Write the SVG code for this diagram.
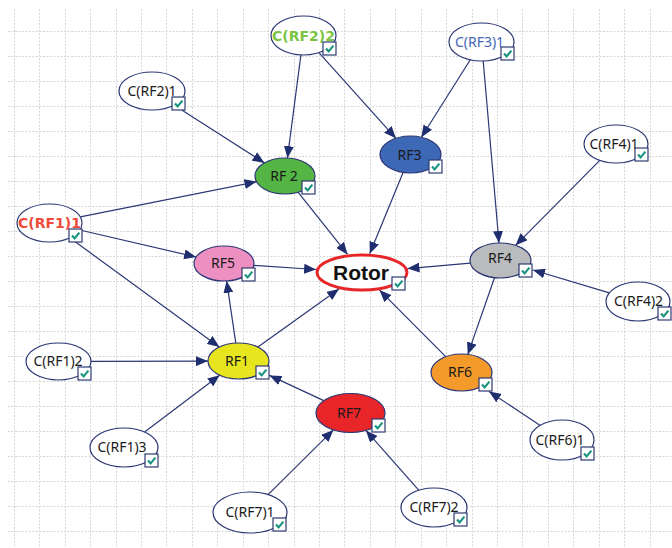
<svg xmlns="http://www.w3.org/2000/svg" xmlns:xlink="http://www.w3.org/1999/xlink" width="672" height="548" viewBox="0 0 672 548">
<style>
.grid{stroke:#d6d6d6;stroke-width:1;stroke-dasharray:2 1.5;fill:none}
.edge{stroke:#2b3775;stroke-width:1.2;fill:none;marker-end:url(#arr)}
.nd{stroke:#2b3775;stroke-width:1.2}
.lbl{font-family:"Noto Sans","Liberation Sans",sans-serif;font-size:14px;fill:#1a1a1a;text-anchor:middle}
.bl{font-family:"DejaVu Sans","Liberation Sans",sans-serif;font-weight:bold;font-size:14px;text-anchor:middle}
</style>
<defs>
<marker id="arr" viewBox="0 0 12 10" refX="12" refY="5" markerWidth="12" markerHeight="10" markerUnits="userSpaceOnUse" orient="auto">
<path d="M0,0 L12,5 L0,10 z" fill="#1f2e6e"/>
</marker>
<symbol id="chk" viewBox="0 0 13 13" width="13" height="13" overflow="visible">
<rect x="0" y="0" width="13" height="13" fill="#ffffff" stroke="#2d3a70" stroke-width="1.2"/>
<path d="M3,6.5 L5.6,9.4 L10.4,3.6" fill="none" stroke="#1a9480" stroke-width="2.2"/>
</symbol>
</defs>
<rect width="672" height="548" fill="#ffffff"/>
<g id="grid">
<path class="grid" d="M14.5,9V548M39.5,9V548M65.5,9V548M90.5,9V548M116.5,9V548M141.5,9V548M166.5,9V548M192.5,9V548M217.5,9V548M243.5,9V548M268.5,9V548M294.5,9V548M319.5,9V548M344.5,9V548M370.5,9V548M395.5,9V548M421.5,9V548M446.5,9V548M472.5,9V548M497.5,9V548M522.5,9V548M548.5,9V548M573.5,9V548M599.5,9V548M624.5,9V548M650.5,9V548"/>
<path class="grid" d="M8,31.5H672M8,56.5H672M8,81.5H672M8,106.5H672M8,131.5H672M8,156.5H672M8,181.5H672M8,206.5H672M8,231.5H672M8,256.5H672M8,281.5H672M8,306.5H672M8,331.5H672M8,356.5H672M8,381.5H672M8,406.5H672M8,431.5H672M8,456.5H672M8,481.5H672M8,506.5H672M8,531.5H672"/>
</g>
<g id="connectors">
<line class="edge" x1="300.9" y1="54.9" x2="287.4" y2="158.1"/>
<line class="edge" x1="318.9" y1="52.7" x2="395.9" y2="138.3"/>
<line class="edge" x1="470.3" y1="59.8" x2="421.4" y2="137.2"/>
<line class="edge" x1="483.2" y1="61" x2="499" y2="243"/>
<line class="edge" x1="181.7" y1="110" x2="264.5" y2="162.9"/>
<line class="edge" x1="80.3" y1="216.9" x2="256.5" y2="181.7"/>
<line class="edge" x1="79.7" y1="230" x2="196.1" y2="257"/>
<line class="edge" x1="69.8" y1="237.8" x2="219.3" y2="347"/>
<line class="edge" x1="298" y1="192.2" x2="347.6" y2="254.4"/>
<line class="edge" x1="403.1" y1="172.5" x2="369.7" y2="253.8"/>
<line class="edge" x1="253.8" y1="265.4" x2="316.1" y2="269.5"/>
<line class="edge" x1="470.3" y1="263.1" x2="407.5" y2="268.6"/>
<line class="edge" x1="599.8" y1="160.4" x2="515.6" y2="245.3"/>
<line class="edge" x1="609.3" y1="292.9" x2="533" y2="270"/>
<line class="edge" x1="494.5" y1="277.7" x2="467.8" y2="354.4"/>
<line class="edge" x1="445.7" y1="356.7" x2="379.5" y2="290.1"/>
<line class="edge" x1="235.8" y1="343.1" x2="226.6" y2="280.9"/>
<line class="edge" x1="257.9" y1="347.1" x2="339" y2="289"/>
<line class="edge" x1="91" y1="361.4" x2="208" y2="361.1"/>
<line class="edge" x1="144.6" y1="432" x2="219.7" y2="375.2"/>
<line class="edge" x1="323.8" y1="400.6" x2="269.5" y2="375.4"/>
<line class="edge" x1="268.1" y1="494.6" x2="333.4" y2="429.9"/>
<line class="edge" x1="418.7" y1="490.2" x2="365.9" y2="430.4"/>
<line class="edge" x1="540.2" y1="425.4" x2="489" y2="391.5"/>
</g>
<g id="n-crf2-2"><ellipse class="nd" cx="303.5" cy="35.5" rx="32.5" ry="19.5" fill="#ffffff"/><text class="bl" x="303.5" y="40.5" fill="#7bc442" font-size="13.5">C(RF2)2</text><use xlink:href="#chk" x="323" y="42"/></g>
<g id="n-crf3-1"><ellipse class="nd" cx="481.5" cy="42" rx="32.5" ry="19" fill="#ffffff"/><text class="lbl" x="479.5" y="46.5" style="fill:#4466b4">C(RF3)1</text><use xlink:href="#chk" x="501" y="47"/></g>
<g id="n-crf2-1"><ellipse class="nd" cx="152" cy="91" rx="33" ry="19" fill="#ffffff"/><text class="lbl" x="152" y="95.5">C(RF2)1</text><use xlink:href="#chk" x="172" y="97"/></g>
<g id="n-rf2"><ellipse class="nd" cx="285" cy="176" rx="30" ry="18" fill="#55b544"/><text class="lbl" x="284" y="180.5">RF 2</text><use xlink:href="#chk" x="302" y="181"/></g>
<g id="n-rf3"><ellipse class="nd" cx="410.5" cy="154.5" rx="30.5" ry="18.5" fill="#3d68b5"/><text class="lbl" x="409.5" y="159.5">RF3</text><use xlink:href="#chk" x="429" y="160"/></g>
<g id="n-crf4-1"><ellipse class="nd" cx="616" cy="144" rx="32" ry="19" fill="#ffffff"/><text class="lbl" x="614" y="148.5">C(RF4)1</text><use xlink:href="#chk" x="635" y="148"/></g>
<g id="n-crf1-1"><ellipse class="nd" cx="49.5" cy="223" rx="32.5" ry="19" fill="#ffffff"/><text class="bl" x="49.5" y="227.5" fill="#f04a3a">C(RF1)1</text><use xlink:href="#chk" x="69" y="229"/></g>
<g id="n-rf5"><ellipse class="nd" cx="224" cy="263.5" rx="30" ry="17.5" fill="#ee8fc2"/><text class="lbl" x="223" y="267.5">RF5</text><use xlink:href="#chk" x="242" y="268"/></g>
<g id="n-rotor"><ellipse cx="362" cy="272.5" rx="45" ry="17.5" fill="#ffffff" stroke="#e8262a" stroke-width="3"/><text x="361" y="280" text-anchor="middle" font-family="Liberation Sans, Arial, sans-serif" font-weight="bold" font-size="21" fill="#111111">Rotor</text><use xlink:href="#chk" x="392" y="277"/></g>
<g id="n-rf4"><ellipse class="nd" cx="500.5" cy="260.5" rx="30.5" ry="17.5" fill="#b9bbbd"/><text class="lbl" x="500" y="262.5">RF4</text><use xlink:href="#chk" x="519" y="264"/></g>
<g id="n-crf4-2"><ellipse class="nd" cx="638" cy="301.5" rx="32" ry="19.5" fill="#ffffff"/><text class="lbl" x="638.5" y="306">C(RF4)2</text><use xlink:href="#chk" x="658" y="307"/></g>
<g id="n-crf1-2"><ellipse class="nd" cx="58.5" cy="361.5" rx="32.5" ry="18.5" fill="#ffffff"/><text class="lbl" x="58" y="366">C(RF1)2</text><use xlink:href="#chk" x="78" y="367"/></g>
<g id="n-rf1"><ellipse class="nd" cx="238.5" cy="361" rx="30.5" ry="18" fill="#e6e51e"/><text class="lbl" x="237" y="365.5">RF1</text><use xlink:href="#chk" x="256" y="366"/></g>
<g id="n-rf6"><ellipse class="nd" cx="461.5" cy="372.5" rx="30.5" ry="18.5" fill="#f39a2b"/><text class="lbl" x="460" y="376.5">RF6</text><use xlink:href="#chk" x="479" y="378"/></g>
<g id="n-rf7"><ellipse class="nd" cx="350.5" cy="413" rx="34.5" ry="19.5" fill="#e8262a"/><text class="lbl" x="349" y="417.5">RF7</text><use xlink:href="#chk" x="372" y="419"/></g>
<g id="n-crf1-3"><ellipse class="nd" cx="124" cy="447.5" rx="34" ry="19.5" fill="#ffffff"/><text class="lbl" x="122" y="452">C(RF1)3</text><use xlink:href="#chk" x="145" y="454"/></g>
<g id="n-crf6-1"><ellipse class="nd" cx="562" cy="440" rx="32" ry="20" fill="#ffffff"/><text class="lbl" x="560" y="444.5">C(RF6)1</text><use xlink:href="#chk" x="581" y="447"/></g>
<g id="n-crf7-1"><ellipse class="nd" cx="250" cy="512.5" rx="37" ry="20.5" fill="#ffffff"/><text class="lbl" x="250" y="516.5">C(RF7)1</text><use xlink:href="#chk" x="273" y="518"/></g>
<g id="n-crf7-2"><ellipse class="nd" cx="434" cy="507.5" rx="33" ry="19.5" fill="#ffffff"/><text class="lbl" x="434" y="512">C(RF7)2</text><use xlink:href="#chk" x="454" y="513"/></g>
</svg>
